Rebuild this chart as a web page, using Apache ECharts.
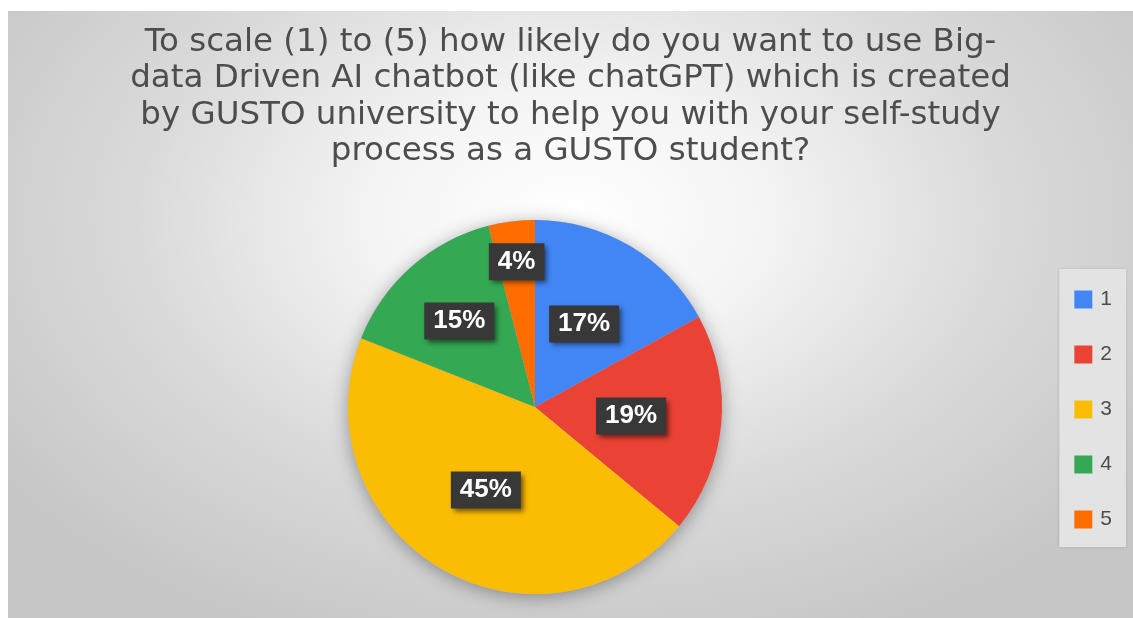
<!DOCTYPE html>
<html>
<head>
<meta charset="utf-8">
<script src="https://cdn.jsdelivr.net/npm/echarts@6/dist/echarts.min.js"></script>
<style>
  html, body { margin: 0; padding: 0; background: #ffffff; }
  #main {
    position: absolute; left: 8px; top: 11px; width: 1125px; height: 607px;
    background: radial-gradient(ellipse 62% 75% at 50% 34%, #ffffff 0%, #f4f4f4 28%, #dadada 62%, #c6c6c6 100%);
  }
</style>
</head>
<body>
<div id="main"></div>
<script>
// Survey answers on a 1–5 scale (share of respondents, %)
const categories = ['1', '2', '3', '4', '5'];
const shares = [17, 19, 45, 15, 4];
const sliceColors = ['#4285F4', '#EA4335', '#FBBC04', '#34A853', '#FF6D01'];

const titleText = 'To scale (1) to (5) how likely do you want to use Big-\n' +
  'data Driven AI chatbot (like chatGPT) which is created\n' +
  'by GUSTO university to help you with your self-study\n' +
  'process as a GUSTO student?';

const chart = echarts.init(document.getElementById('main'), null, { renderer: 'canvas' });

const total = shares.reduce((a, b) => a + b, 0);
// Small slices near the top get their labels nudged outward along the slice axis
const labelPush = { 3: 18, 4: 50 };

function midAngle(idx) {
  let before = 0;
  for (let i = 0; i < idx; i++) before += shares[i];
  return ((before + shares[idx] / 2) / total) * 2 * Math.PI;
}

const center = [527, 396];
const radius = 187;

chart.setOption({
  backgroundColor: 'transparent',
  animation: false,
  title: {
    text: titleText,
    left: 'center',
    top: 8,
    textStyle: {
      fontFamily: 'DejaVu Sans',
      fontSize: 32.5,
      fontWeight: 'normal',
      lineHeight: 36.5,
      color: '#4d4d4d'
    }
  },
  legend: {
    orient: 'vertical',
    right: 7,
    top: 258,
    data: categories,
    icon: 'rect',
    itemWidth: 18,
    itemHeight: 18,
    itemGap: 34,
    padding: [20, 14, 17, 15],
    backgroundColor: '#e3e3e3',
    shadowColor: 'rgba(0,0,0,0.12)',
    shadowBlur: 3,
    textStyle: {
      fontFamily: 'Liberation Sans',
      fontSize: 21,
      color: '#4d4d4d',
      padding: [0, 0, 0, 3]
    }
  },
  series: [
    {
      // soft drop shadow under the pie
      type: 'pie',
      silent: true,
      center: center,
      radius: radius,
      z: 1,
      label: { show: false },
      labelLine: { show: false },
      itemStyle: {
        color: '#bdbdbd',
        shadowColor: 'rgba(0,0,0,0.35)',
        shadowBlur: 18,
        shadowOffsetY: 3
      },
      data: [{ value: total, name: '' }],
      legendHoverLink: false
    },
    {
      type: 'pie',
      center: center,
      radius: radius,
      z: 2,
      startAngle: 90,
      clockwise: true,
      data: categories.map((c, i) => ({
        name: c,
        value: shares[i],
        itemStyle: { color: sliceColors[i] }
      })),
      label: {
        show: true,
        position: 'inside',
        formatter: (p) => p.value + '%',
        fontFamily: 'Liberation Sans',
        fontWeight: 'bold',
        fontSize: 26,
        lineHeight: 27,
        color: '#ffffff',
        backgroundColor: '#383838',
        padding: [6, 9, 4, 9],
        shadowColor: 'rgba(0,0,0,0.55)',
        shadowBlur: 5,
        shadowOffsetX: 3,
        shadowOffsetY: 3
      },
      labelLine: { show: false },
      labelLayout: (params) => {
        const push = labelPush[params.dataIndex];
        if (!push) return {};
        const a = midAngle(params.dataIndex);
        return { dx: push * Math.sin(a), dy: -push * Math.cos(a) };
      }
    }
  ]
});
</script>
</body>
</html>
